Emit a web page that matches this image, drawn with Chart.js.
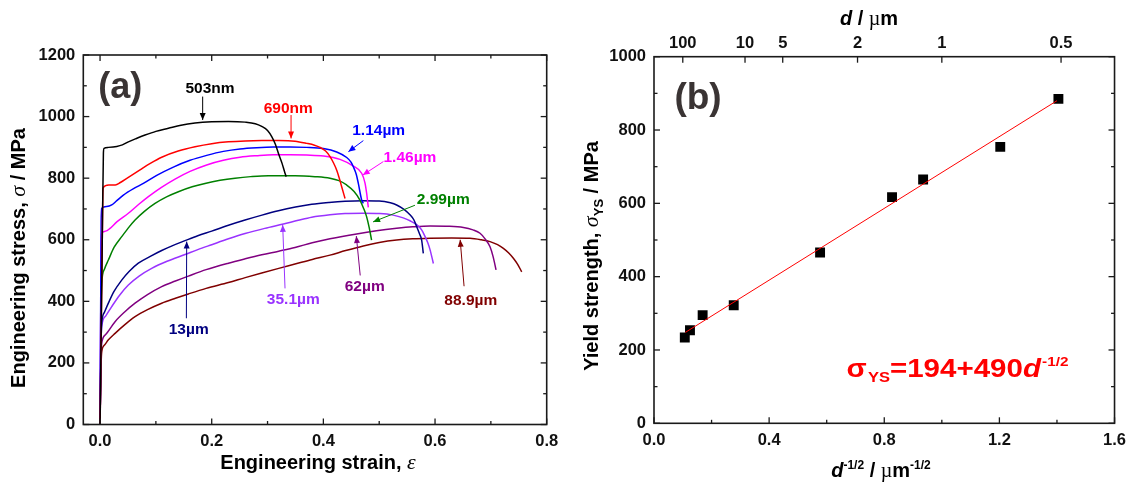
<!DOCTYPE html>
<html>
<head>
<meta charset="utf-8">
<script src="https://cdn.jsdelivr.net/npm/chart.js@4.4.1/dist/chart.umd.min.js"></script>
<style>
html,body{margin:0;padding:0;background:#fff;}
#wrap{position:relative;width:1133px;height:484px;}
.box{position:absolute;top:0;height:484px;}
#boxA{left:0;width:566px;}
#boxB{left:566px;width:567px;}
</style>
</head>
<body>
<div id="wrap">
  <div class="box" id="boxA"><canvas id="chartA"></canvas></div>
  <div class="box" id="boxB"><canvas id="chartB"></canvas></div>
</div>
<script>
// ---- panel (a): stress-strain curves ----
const sizeLabels = ["503nm","690nm","1.14µm","1.46µm","2.99µm","13µm","35.1µm","62µm","88.9µm"];
const curveColors = ["#000000","#ff0000","#0000ff","#ff00ff","#008000","#000080","#9933ff","#800080","#800000"];

const strain503 = [0,0.004,0.006,0.0072,0.015,0.03,0.04,0.0507,0.065,0.0806,0.1,0.1224,0.145,0.1701,0.2,0.2299,0.2597,0.278,0.2896,0.3,0.3075,0.314,0.3194,0.326,0.3313,0.3335];
const stress503 = [0,600,882,897,900,903,908,918,929,940,952,962,972,979,983,984,982,977,968,955,935,910,881,848,816,805];

const strain690 = [0,0.004,0.005,0.006,0.0155,0.0274,0.0364,0.05,0.0716,0.09,0.1104,0.14,0.1701,0.2,0.2299,0.26,0.2896,0.32,0.3492,0.3701,0.384,0.394,0.404,0.4119,0.418,0.4239,0.4285,0.4328,0.4388];
const stress690 = [0,600,755,770,778,778,786,802,827,848,868,888,902,912,918,921,922,922,920,913,907,900,888,870,850,826,800,772,734];

const strain114 = [0,0.002,0.003,0.012,0.0209,0.03,0.0418,0.06,0.0776,0.1015,0.1313,0.1612,0.191,0.2209,0.2507,0.2806,0.3104,0.3403,0.3701,0.4,0.4239,0.4418,0.4495,0.4536,0.459,0.4627,0.4686,0.4715];
const stress114 = [0,660,702,708,713,727,745,766,783,809,836,858,874,887,895,899,901,901,900,896,885,867,852,837,812,782,729,718];

const strain146 = [0,0.002,0.003,0.01,0.0179,0.03,0.0507,0.07,0.0866,0.11,0.1343,0.1612,0.191,0.2209,0.2507,0.2806,0.3104,0.3403,0.3701,0.4,0.4298,0.4537,0.4686,0.4745,0.4775,0.4805];
const stress146 = [0,580,621,628,637,658,686,716,740,770,797,822,843,858,868,873,876,876,875,872,861,839,816,785,751,705];

const strain299 = [0,0.002,0.003,0.008,0.0149,0.025,0.0388,0.05,0.0627,0.08,0.0985,0.12,0.1403,0.165,0.188,0.215,0.2418,0.27,0.3015,0.3492,0.385,0.4118,0.428,0.4416,0.455,0.4655,0.4725,0.4774,0.482,0.4863];
const stress299 = [0,400,459,505,534,575,610,637,664,693,718,740,756,772,783,793,800,805,808,808,805,800,792,778,757,729,700,675,640,599];

const strain13 = [0,0.002,0.003,0.008,0.0149,0.025,0.0388,0.052,0.0686,0.09,0.1104,0.13,0.1522,0.175,0.2,0.23,0.2597,0.29,0.3194,0.35,0.3791,0.41,0.4388,0.47,0.5,0.52,0.5312,0.545,0.5551,0.562,0.567,0.572,0.576,0.579];
const stress13 = [0,280,329,365,394,432,469,497,524,546,565,581,597,613,628,647,664,680,694,706,715,721,725,727,726,720,713,698,681,665,643,620,599,556];

const strain351 = [0,0.002,0.003,0.01,0.0209,0.035,0.0507,0.07,0.0925,0.12,0.1522,0.175,0.2,0.23,0.2597,0.295,0.3284,0.355,0.3791,0.4118,0.4388,0.47,0.5013,0.525,0.543,0.556,0.567,0.576,0.582,0.587,0.591,0.597];
const stress351 = [0,280,318,352,383,420,453,482,507,530,552,568,584,603,620,637,651,663,673,681,685,686,685,680,671,661,649,632,611,590,568,523];

const strain62 = [0,0.002,0.003,0.01,0.0269,0.045,0.0627,0.085,0.1104,0.135,0.1582,0.19,0.2299,0.26,0.2896,0.32,0.3492,0.38,0.4118,0.4596,0.495,0.5312,0.56,0.591,0.62,0.6507,0.668,0.6806,0.69,0.6985,0.704,0.7093];
const stress62 = [0,230,264,292,334,367,394,422,448,466,482,503,524,538,551,563,575,590,603,619,629,637,642,645,644,640,632,621,602,577,545,502];

const strain889 = [0,0.002,0.003,0.008,0.015,0.0269,0.045,0.0627,0.085,0.1104,0.135,0.1582,0.19,0.2299,0.26,0.2896,0.32,0.3492,0.38,0.4118,0.44,0.4715,0.5,0.5312,0.56,0.591,0.63,0.6627,0.683,0.6985,0.712,0.7224,0.732,0.7403,0.748,0.7552];
const stress889 = [0,200,236,258,275,296,325,350,373,394,410,424,442,461,477,492,507,521,536,550,565,580,591,599,603,605,606,605,600,594,584,572,557,540,520,496];

const strainTicks = [0.0,0.2,0.4,0.6,0.8];
const stressTicks = [0,200,400,600,800,1000,1200];

// label text position and arrow (from -> to), in data units
const notesA = [
  {tx:0.197, ty:1092, ax:[0.1838,0.1838], ay:[1065,989]},
  {tx:0.337, ty:1027, ax:[0.3421,0.3421], ay:[1005,929]},
  {tx:0.499, ty:955,  ax:[0.4716,0.4448], ay:[922,886]},
  {tx:0.555, ty:868,  ax:[0.5075,0.4705], ay:[854,810]},
  {tx:0.6147,ty:731,  ax:[0.5640,0.4890], ay:[712,658]},
  {tx:0.1588,ty:309,  ax:[0.1546,0.1552], ay:[345,594]},
  {tx:0.3461,ty:404,  ax:[0.3313,0.3271], ay:[442,648]},
  {tx:0.4740,ty:448,  ax:[0.4660,0.4590], ay:[484,612]},
  {tx:0.6640,ty:403,  ax:[0.6520,0.6450], ay:[449,600]}
];

// ---- panel (b): Hall-Petch ----
const invSqrtD = [0.107,0.125,0.169,0.277,0.577,0.827,0.935,1.203,1.405];
const yieldStrength = [234,254,295,322,466,617,665,754,885];
const fitX = [0.109,1.40];
const fitY = [248,880];
const invTicks = [0.0,0.4,0.8,1.2,1.6];
const ysTicks = [0,200,400,600,800,1000];
const dTickLabels = ["100","10","5","2","1","0.5"];
const dTickValues = [100,10,5,2,1,0.5];

const SANS = "'Liberation Sans', Arial, sans-serif";
const SERIF = "'Liberation Serif', 'Times New Roman', serif";
const tickFont = {family:SANS, size:16.5, weight:'bold'};

function pts(xs, ys){ return xs.map((x,i)=>({x:x, y:ys[i]})); }
function mids(a){ const m=[]; for(let i=0;i<a.length-1;i++) m.push((a[i]+a[i+1])/2); return m; }

function richWidth(ctx, parts){
  let w=0;
  parts.forEach(p=>{ ctx.font=p.f; w+=ctx.measureText(p.t).width+(p.dx||0); });
  return w;
}
function drawRich(ctx, parts, x, y, color){
  parts.forEach(p=>{
    ctx.font=p.f; ctx.fillStyle=color;
    x+=(p.dx||0);
    ctx.fillText(p.t, x, y+(p.dy||0));
    x+=ctx.measureText(p.t).width;
  });
}
function richCentered(ctx, parts, cx, cy, rot, color){
  ctx.save();
  ctx.translate(cx,cy);
  if(rot) ctx.rotate(rot);
  ctx.textBaseline='alphabetic'; ctx.textAlign='left';
  const w=richWidth(ctx,parts);
  drawRich(ctx, parts, -w/2, 7, color||'#000');
  ctx.restore();
}

function arrow(ctx,x1,y1,x2,y2,color){
  ctx.strokeStyle=color; ctx.fillStyle=color; ctx.lineWidth=1;
  ctx.beginPath(); ctx.moveTo(x1,y1); ctx.lineTo(x2,y2); ctx.stroke();
  const a=Math.atan2(y2-y1,x2-x1), L=7, W=3;
  ctx.beginPath();
  ctx.moveTo(x2,y2);
  ctx.lineTo(x2-L*Math.cos(a)+W*Math.sin(a), y2-L*Math.sin(a)-W*Math.cos(a));
  ctx.lineTo(x2-L*Math.cos(a)-W*Math.sin(a), y2-L*Math.sin(a)+W*Math.cos(a));
  ctx.closePath(); ctx.fill();
}

// inward ticks on one edge
function edgeTicks(ctx, scale, values, len, edge, horizontal, dir){
  values.forEach(v=>{
    const p=scale.getPixelForValue(v);
    ctx.beginPath();
    if(horizontal){ ctx.moveTo(p,edge); ctx.lineTo(p,edge+dir*len); }
    else { ctx.moveTo(edge,p); ctx.lineTo(edge+dir*len,p); }
    ctx.stroke();
  });
}

function frame(chart){
  const {ctx, chartArea:a} = chart;
  ctx.save();
  ctx.strokeStyle='#1a1a1a'; ctx.lineWidth=1.6;
  ctx.strokeRect(a.left,a.top,a.right-a.left,a.bottom-a.top);
  ctx.lineWidth=1.3;
  return a;
}

const panelA = {
  id:'panelA',
  afterDraw(chart){
    const {ctx, scales:{x,y}} = chart;
    const a = frame(chart);
    edgeTicks(ctx,x,strainTicks,6,a.bottom,true,-1);
    edgeTicks(ctx,x,mids(strainTicks),3.5,a.bottom,true,-1);
    edgeTicks(ctx,x,strainTicks,6,a.top,true,1);
    edgeTicks(ctx,x,mids(strainTicks),3.5,a.top,true,1);
    edgeTicks(ctx,y,stressTicks,6,a.left,false,1);
    edgeTicks(ctx,y,mids(stressTicks),3.5,a.left,false,1);
    edgeTicks(ctx,y,stressTicks,6,a.right,false,-1);
    edgeTicks(ctx,y,mids(stressTicks),3.5,a.right,false,-1);

    notesA.forEach((n,i)=>{
      arrow(ctx, x.getPixelForValue(n.ax[0]), y.getPixelForValue(n.ay[0]),
                 x.getPixelForValue(n.ax[1]), y.getPixelForValue(n.ay[1]), curveColors[i]);
      ctx.font='bold 15.5px '+SANS; ctx.fillStyle=curveColors[i];
      ctx.textAlign='center'; ctx.textBaseline='middle';
      ctx.fillText(sizeLabels[i], x.getPixelForValue(n.tx), y.getPixelForValue(n.ty));
    });

    ctx.font='bold 36px '+SANS; ctx.fillStyle='#3a3434';
    ctx.textAlign='center'; ctx.textBaseline='alphabetic';
    ctx.fillText('(a)', x.getPixelForValue(0.036), y.getPixelForValue(1092)+10);

    richCentered(ctx,[
      {t:'Engineering stress, ', f:'bold 20px '+SANS},
      {t:'σ', f:'italic 22px '+SERIF},
      {t:' / MPa', f:'bold 20px '+SANS}
    ], 18, 258, -Math.PI/2);
    richCentered(ctx,[
      {t:'Engineering strain, ', f:'bold 20px '+SANS},
      {t:'ε', f:'italic 22px '+SERIF}
    ], 318, 462, 0);
    ctx.restore();
  }
};

const panelB = {
  id:'panelB',
  afterDraw(chart){
    const {ctx, scales:{x,y,x2}} = chart;
    const a = frame(chart);
    edgeTicks(ctx,x,invTicks,6,a.bottom,true,-1);
    edgeTicks(ctx,x,mids(invTicks),3.5,a.bottom,true,-1);
    edgeTicks(ctx,x2,dTickValues.map(d=>1/Math.sqrt(d)),6,a.top,true,1);
    edgeTicks(ctx,y,ysTicks,6,a.left,false,1);
    edgeTicks(ctx,y,mids(ysTicks),3.5,a.left,false,1);
    edgeTicks(ctx,y,ysTicks,6,a.right,false,-1);
    edgeTicks(ctx,y,mids(ysTicks),3.5,a.right,false,-1);

    ctx.font='bold 37px '+SANS; ctx.fillStyle='#3a3434';
    ctx.textAlign='center'; ctx.textBaseline='alphabetic';
    ctx.fillText('(b)', x.getPixelForValue(0.153), y.getPixelForValue(887)+11);

    // equation
    const eq=[
      {t:'σ', f:'bold 25px '+SANS},
      {t:'YS', f:'bold 14px '+SANS, dy:5, dx:1},
      {t:'=194+490', f:'bold 25px '+SANS},
      {t:'d', f:'italic bold 25px '+SANS},
      {t:'-1/2', f:'bold 13px '+SANS, dy:-11, dx:1}
    ];
    ctx.save();
    const ex=x.getPixelForValue(0.669), ey=y.getPixelForValue(126);
    ctx.textAlign='left'; ctx.textBaseline='alphabetic';
    const w=richWidth(ctx,eq);
    ctx.translate(ex,ey); ctx.scale(222/w,1);
    drawRich(ctx,eq,0,0,'#ff0000');
    ctx.restore();

    richCentered(ctx,[
      {t:'Yield strength, ', f:'bold 20px '+SANS},
      {t:'σ', f:'italic 22px '+SERIF},
      {t:'YS', f:'bold 13px '+SANS, dy:5},
      {t:' / MPa', f:'bold 20px '+SANS}
    ], 25, 256, -Math.PI/2);
    richCentered(ctx,[
      {t:'d', f:'italic bold 20px '+SANS},
      {t:'-1/2', f:'bold 12px '+SANS, dy:-8},
      {t:' / ', f:'bold 20px '+SANS},
      {t:'µ', f:'20px '+SERIF},
      {t:'m', f:'bold 20px '+SANS},
      {t:'-1/2', f:'bold 12px '+SANS, dy:-8}
    ], 315, 470, 0);
    richCentered(ctx,[
      {t:'d', f:'italic bold 20px '+SANS},
      {t:' / ', f:'bold 20px '+SANS},
      {t:'µ', f:'20px '+SERIF},
      {t:'m', f:'bold 20px '+SANS}
    ], 303, 18, 0);
    ctx.restore();
  }
};

Chart.defaults.font.family = SANS;
Chart.defaults.color = '#111';

const datasetsA = [
  [strain503,stress503],[strain690,stress690],[strain114,stress114],[strain146,stress146],
  [strain299,stress299],[strain13,stress13],[strain351,stress351],[strain62,stress62],[strain889,stress889]
].map((c,i)=>({
  label:sizeLabels[i], data:pts(c[0],c[1]), borderColor:curveColors[i], borderWidth:1.5,
  pointRadius:0, fill:false, cubicInterpolationMode:'monotone'
}));

const noGrid = {display:false, drawTicks:false};

new Chart(document.getElementById('chartA'),{
  type:'line',
  data:{datasets:datasetsA},
  options:{
    responsive:true, maintainAspectRatio:false, animation:false,
    layout:{padding:{top:55,right:19.3,left:0,bottom:0}},
    plugins:{legend:{display:false}, tooltip:{enabled:false}},
    scales:{
      x:{type:'linear', min:-0.03, max:0.8,
         grid:noGrid, border:{display:false},
         afterBuildTicks:s=>{ s.ticks=strainTicks.map(v=>({value:v})); },
         afterFit:s=>{ s.height=59.5; },
         ticks:{font:tickFont, color:'#111', padding:7, maxRotation:0, autoSkip:false,
                callback:v=>Number(v).toFixed(1)}},
      y:{type:'linear', min:0, max:1200,
         grid:noGrid, border:{display:false},
         afterBuildTicks:s=>{ s.ticks=stressTicks.map(v=>({value:v})); },
         afterFit:s=>{ s.width=83.3; },
         ticks:{font:tickFont, color:'#111', padding:8, autoSkip:false, callback:v=>String(v)}}
    }
  },
  plugins:[panelA]
});

new Chart(document.getElementById('chartB'),{
  type:'scatter',
  data:{datasets:[
    {label:'fit', type:'line', data:pts(fitX,fitY), borderColor:'#ff0000', borderWidth:1, pointRadius:0, fill:false},
    {label:'yield', data:pts(invSqrtD,yieldStrength), backgroundColor:'#000', borderColor:'#000',
     pointStyle:'rect', pointRadius:7, borderWidth:0}
  ]},
  options:{
    responsive:true, maintainAspectRatio:false, animation:false,
    layout:{padding:{top:0,right:16.2,left:0,bottom:0}},
    plugins:{legend:{display:false}, tooltip:{enabled:false}},
    scales:{
      x:{type:'linear', position:'bottom', min:0, max:1.6,
         grid:noGrid, border:{display:false},
         afterBuildTicks:s=>{ s.ticks=invTicks.map(v=>({value:v})); },
         afterFit:s=>{ s.height=60.7; },
         ticks:{font:tickFont, color:'#111', padding:7, maxRotation:0, autoSkip:false,
                callback:v=>Number(v).toFixed(1)}},
      x2:{type:'linear', position:'top', min:0, max:1.6,
         grid:noGrid, border:{display:false},
         afterBuildTicks:s=>{ s.ticks=dTickValues.map(d=>({value:1/Math.sqrt(d)})); },
         afterFit:s=>{ s.height=56.7; },
         ticks:{font:tickFont, color:'#111', padding:3.5, maxRotation:0, autoSkip:false,
                callback:(v,i)=>dTickLabels[i]}},
      y:{type:'linear', min:0, max:1000,
         grid:noGrid, border:{display:false},
         afterBuildTicks:s=>{ s.ticks=ysTicks.map(v=>({value:v})); },
         afterFit:s=>{ s.width=88; },
         ticks:{font:tickFont, color:'#111', padding:8, autoSkip:false, callback:v=>String(v)}}
    }
  },
  plugins:[panelB]
});
</script>
</body>
</html>
